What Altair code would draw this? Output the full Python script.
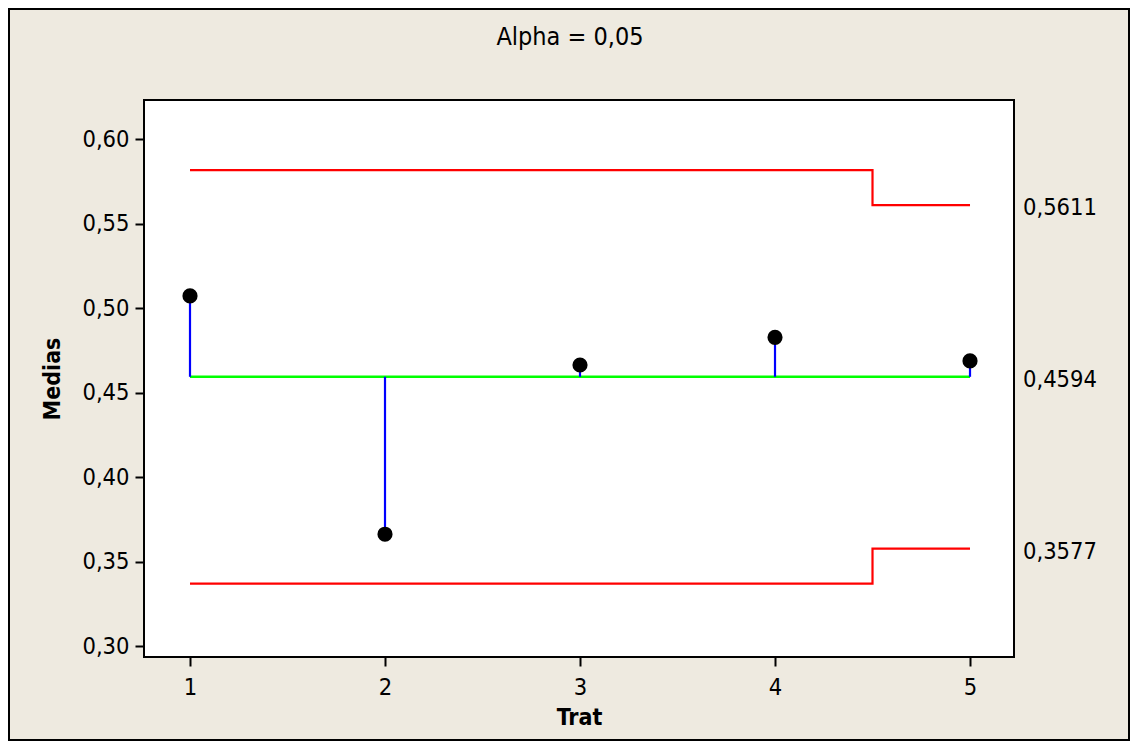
import altair as alt
import pandas as pd

# ---- data ----
trat = [1, 2, 3, 4, 5]
medias = [0.5073, 0.3662, 0.4664, 0.4828, 0.4688]
center = [0.4594, 0.4594, 0.4594, 0.4594, 0.4594]
udl = [0.5818, 0.5818, 0.5818, 0.5818, 0.5611]
ldl = [0.3370, 0.3370, 0.3370, 0.3370, 0.3577]
ref_values = [0.5611, 0.4594, 0.3577]
ref_labels = ["0,5611", "0,4594", "0,3577"]
y_ticks = [0.30, 0.35, 0.40, 0.45, 0.50, 0.55, 0.60]
x_ticks = [1, 2, 3, 4, 5]
title_text = "Alpha = 0,05"

FONT = "DejaVu Sans Condensed, DejaVu Sans, sans-serif"
W, H = 870, 557
PAD = {"left": 136, "top": 92, "right": 116, "bottom": 84}

df = pd.DataFrame({"Trat": trat, "Medias": medias, "center": center,
                   "udl": udl, "ldl": ldl})
refs = pd.DataFrame({"v": ref_values, "lab": ref_labels})
one = pd.DataFrame({"t": [title_text]})

xscale = alt.Scale(domain=[0.7641, 5.2256], nice=False, zero=False)
yscale = alt.Scale(domain=[0.2935, 0.6233], nice=False, zero=False)

xaxis = alt.Axis(values=x_ticks, format="d", title="Trat", grid=False,
                 domain=False, tickSize=9, tickWidth=2, tickColor="black",
                 labelPadding=9, labelFontSize=23.5, labelFont=FONT,
                 labelColor="black", titleFont=FONT, titleFontSize=23,
                 titleFontWeight="bold", titleColor="black",
                 titleX=W / 2, titleY=60.5, titleBaseline="middle",
                 titleAlign="center")
yaxis = alt.Axis(values=y_ticks, title="Medias", grid=False, domain=False,
                 labelExpr="replace(format(datum.value, '.2f'), '.', ',')",
                 tickSize=9, tickWidth=2, tickColor="black", labelPadding=6,
                 labelFontSize=23.5, labelFont=FONT, labelColor="black",
                 titleFont=FONT, titleFontSize=23, titleFontWeight="bold",
                 titleColor="black", titleX=-92, titleY=H / 2,
                 titleAngle=270, titleBaseline="middle", titleAlign="center")

base = alt.Chart(df)

stems = base.mark_rule(color="#0000FF", strokeWidth=2.2).encode(
    x=alt.X("Trat:Q", scale=xscale, axis=xaxis),
    y=alt.Y("Medias:Q", scale=yscale, axis=yaxis),
    y2="center:Q",
)
cline = base.mark_line(color="#00FF00", strokeWidth=2.4).encode(
    x=alt.X("Trat:Q", scale=xscale), y=alt.Y("center:Q", scale=yscale))
uline = base.mark_line(color="#FF0000", strokeWidth=2.2, interpolate="step").encode(
    x=alt.X("Trat:Q", scale=xscale), y=alt.Y("udl:Q", scale=yscale))
lline = base.mark_line(color="#FF0000", strokeWidth=2.2, interpolate="step").encode(
    x=alt.X("Trat:Q", scale=xscale), y=alt.Y("ldl:Q", scale=yscale))
pts = base.mark_circle(color="black", opacity=1, size=230).encode(
    x=alt.X("Trat:Q", scale=xscale), y=alt.Y("Medias:Q", scale=yscale))

rlabels = alt.Chart(refs).mark_text(
    align="left", baseline="middle", dy=3, font=FONT, fontSize=23.5,
    color="black").encode(
    x=alt.value(879), y=alt.Y("v:Q", scale=yscale), text="lab:N")

title = alt.Chart(one).mark_text(
    align="center", baseline="middle", font=FONT, fontSize=25,
    color="black").encode(x=alt.value(426), y=alt.value(-63), text="t:N")

border = alt.Chart(one).mark_rect(
    fill=None, fillOpacity=0, stroke="black", strokeWidth=2, clip=False).encode(
    x=alt.value(-135), x2=alt.value(PAD["right"] + W - 1),
    y=alt.value(-91), y2=alt.value(H + PAD["bottom"] - 1))

chart = alt.layer(cline, uline, lline, stems, pts, rlabels, title, border).properties(
    width=W, height=H, padding=PAD,
    autosize=alt.AutoSizeParams(type="none"),
    background="#EEEAE0",
).configure_view(fill="white", stroke="black", strokeWidth=2)

chart.save("out.html", embed_options={"renderer": "svg", "actions": False})
